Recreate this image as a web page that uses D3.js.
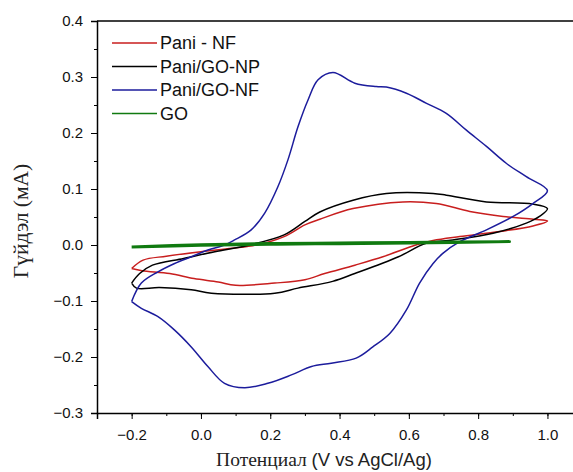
<!DOCTYPE html>
<html>
<head>
<meta charset="utf-8">
<script src="https://cdn.jsdelivr.net/npm/d3@7"></script>
<style>
  body { margin: 0; background: #fff; }
  svg { display: block; }
</style>
</head>
<body>
<svg id="chart" width="573" height="472"></svg>
<script>
// cyclic voltammograms: [potential V, current mA], forward scan then reverse
const paniNF = [
  [-0.2,-0.042],[-0.167,-0.027],[-0.1,-0.020],[0.0,-0.012],[0.09,-0.006],[0.16,0.0],
  [0.24,0.015],[0.30,0.036],[0.343,0.046],[0.439,0.065],[0.583,0.077],[0.679,0.074],
  [0.776,0.060],[0.872,0.051],[0.96,0.046],[1.0,0.043],
  [0.958,0.034],[0.862,0.024],[0.747,0.015],[0.67,0.008],[0.62,0.0],[0.525,-0.021],
  [0.444,-0.036],[0.357,-0.051],[0.30,-0.062],[0.213,-0.068],[0.10,-0.072],
  [0.05,-0.066],[-0.02,-0.060],[-0.09,-0.051],[-0.17,-0.046],[-0.2,-0.042]
];
const paniGONP = [
  [-0.2,-0.068],[-0.177,-0.051],[-0.14,-0.036],[-0.05,-0.024],[0.04,-0.012],[0.14,0.0],
  [0.24,0.018],[0.30,0.042],[0.343,0.059],[0.439,0.080],[0.535,0.092],[0.67,0.092],
  [0.708,0.089],[0.824,0.077],[0.958,0.073],[1.0,0.065],
  [0.977,0.051],[0.939,0.039],[0.843,0.021],[0.727,0.009],[0.65,0.003],[0.57,-0.021],
  [0.444,-0.051],[0.38,-0.065],[0.28,-0.077],[0.213,-0.086],[0.03,-0.086],
  [-0.028,-0.080],[-0.12,-0.076],[-0.186,-0.077],[-0.2,-0.068]
];
const paniGONF = [
  [-0.2,-0.101],[-0.172,-0.068],[-0.124,-0.048],[-0.076,-0.033],[-0.028,-0.021],[0.02,-0.009],
  [0.068,0.0],[0.097,0.009],[0.145,0.027],[0.184,0.057],[0.222,0.104],[0.251,0.152],
  [0.28,0.211],[0.309,0.259],[0.338,0.295],[0.381,0.308],[0.444,0.289],[0.506,0.283],
  [0.535,0.282],[0.593,0.271],[0.651,0.253],[0.708,0.235],[0.766,0.205],[0.824,0.176],
  [0.881,0.146],[0.939,0.122],[1.0,0.097],
  [0.958,0.074],[0.901,0.051],[0.824,0.027],[0.747,0.006],[0.698,-0.015],[0.67,-0.033],
  [0.631,-0.068],[0.593,-0.116],[0.545,-0.158],[0.496,-0.182],[0.448,-0.202],[0.376,-0.211],
  [0.319,-0.217],[0.261,-0.232],[0.193,-0.247],[0.126,-0.255],[0.068,-0.247],[0.02,-0.217],
  [-0.028,-0.182],[-0.076,-0.152],[-0.124,-0.128],[-0.172,-0.113],[-0.2,-0.101]
];
const go = [
  [-0.2,-0.003],[0.0,0.001],[0.2,0.003],[0.4,0.004],[0.6,0.005],[0.891,0.006],
  [0.6,0.003],[0.4,0.002],[0.2,0.001],[0.0,-0.001],[-0.2,-0.004]
];

const seriesNames = ['Pani - NF', 'Pani/GO-NP', 'Pani/GO-NF', 'GO'];
const seriesData = [paniNF, paniGONP, paniGONF, go];
const seriesColors = ['#c81e1e', '#000000', '#1c1c9c', '#107a10'];

const xTicks = [-0.2, 0.0, 0.2, 0.4, 0.6, 0.8, 1.0];
const yTicks = [-0.3, -0.2, -0.1, 0.0, 0.1, 0.2, 0.3, 0.4];

const margin = {left: 97, top: 21, bottom: 413};

const svg = d3.select('#chart');

const x = d3.scaleLinear().domain([-0.3, 1.1]).range([margin.left, margin.left + 1.4 * 346.5]);
const y = d3.scaleLinear().domain([-0.3, 0.4]).range([margin.bottom, margin.top]);

const line = d3.line()
    .x(d => x(d[0]))
    .y(d => y(d[1]))
    .curve(d3.curveCatmullRom.alpha(0.5));

// curves
svg.append('g')
  .selectAll('path')
  .data(seriesData)
  .enter()
  .append('path')
  .attr('d', line)
  .attr('fill', 'none')
  .attr('stroke', (d, i) => seriesColors[i])
  .attr('stroke-width', (d, i) => i === 3 ? 2.6 : 1.5)
  .attr('stroke-linejoin', 'round');

// x axis (bottom)
const xMinor = d3.range(-0.3, 1.11, 0.1).map(v => +v.toFixed(2));
svg.append('g')
  .attr('transform', `translate(0,${margin.bottom})`)
  .call(d3.axisBottom(x).tickValues(xMinor).tickSize(3).tickFormat(''))
  .call(g => g.select('.domain').remove());
svg.append('g')
  .attr('transform', `translate(0,${margin.bottom})`)
  .call(d3.axisBottom(x).tickValues(xTicks).tickSize(6).tickPadding(10).tickFormat(d3.format('.1f')))
  .call(g => g.select('.domain').attr('stroke-width', 1.5))
  .call(g => g.selectAll('text').attr('font-family', 'Liberation Sans, Arial, sans-serif').attr('font-size', 15).attr('fill', '#111'));

// y axis (left)
const yMinor = d3.range(-0.3, 0.401, 0.05).map(v => +v.toFixed(2));
svg.append('g')
  .attr('transform', `translate(${margin.left},0)`)
  .call(d3.axisLeft(y).tickValues(yMinor).tickSize(3).tickFormat(''))
  .call(g => g.select('.domain').remove());
svg.append('g')
  .attr('transform', `translate(${margin.left},0)`)
  .call(d3.axisLeft(y).tickValues(yTicks).tickSize(6).tickPadding(8).tickFormat(d3.format('.1f')))
  .call(g => g.select('.domain').attr('stroke-width', 1.5))
  .call(g => g.selectAll('text').attr('font-family', 'Liberation Sans, Arial, sans-serif').attr('font-size', 15).attr('fill', '#111'));

// top frame line
svg.append('line')
  .attr('x1', margin.left).attr('x2', 573)
  .attr('y1', margin.top).attr('y2', margin.top)
  .attr('stroke', '#000').attr('stroke-width', 1.5);

// axis titles
const xTitle = svg.append('text')
  .attr('x', 324).attr('y', 466)
  .attr('text-anchor', 'middle')
  .attr('font-size', 19.5)
  .attr('fill', '#222');
xTitle.append('tspan').attr('font-family', 'Liberation Serif, Times New Roman, serif').text('Потенциал ');
xTitle.append('tspan').attr('font-family', 'Liberation Sans, Arial, sans-serif').attr('font-size', 18.5).text('(V vs AgCl/Ag)');

svg.append('text')
  .attr('transform', 'translate(28,221) rotate(-90)')
  .attr('text-anchor', 'middle')
  .attr('font-family', 'Liberation Serif, Times New Roman, serif')
  .attr('font-size', 21.5)
  .attr('fill', '#222')
  .text('Гүйдэл (мА)');

// legend
const legend = svg.append('g');
const rows = legend.selectAll('g')
  .data(seriesNames)
  .enter()
  .append('g')
  .attr('transform', (d, i) => `translate(112,${43 + i * 23.5})`);
rows.append('line')
  .attr('x1', 0).attr('x2', 45)
  .attr('stroke', (d, i) => seriesColors[i])
  .attr('stroke-width', 1.5);
rows.append('text')
  .attr('x', 48).attr('dy', '0.35em')
  .attr('font-family', 'Liberation Sans, Arial, sans-serif')
  .attr('font-size', 18)
  .attr('fill', '#111')
  .text(d => d);
</script>
</body>
</html>
